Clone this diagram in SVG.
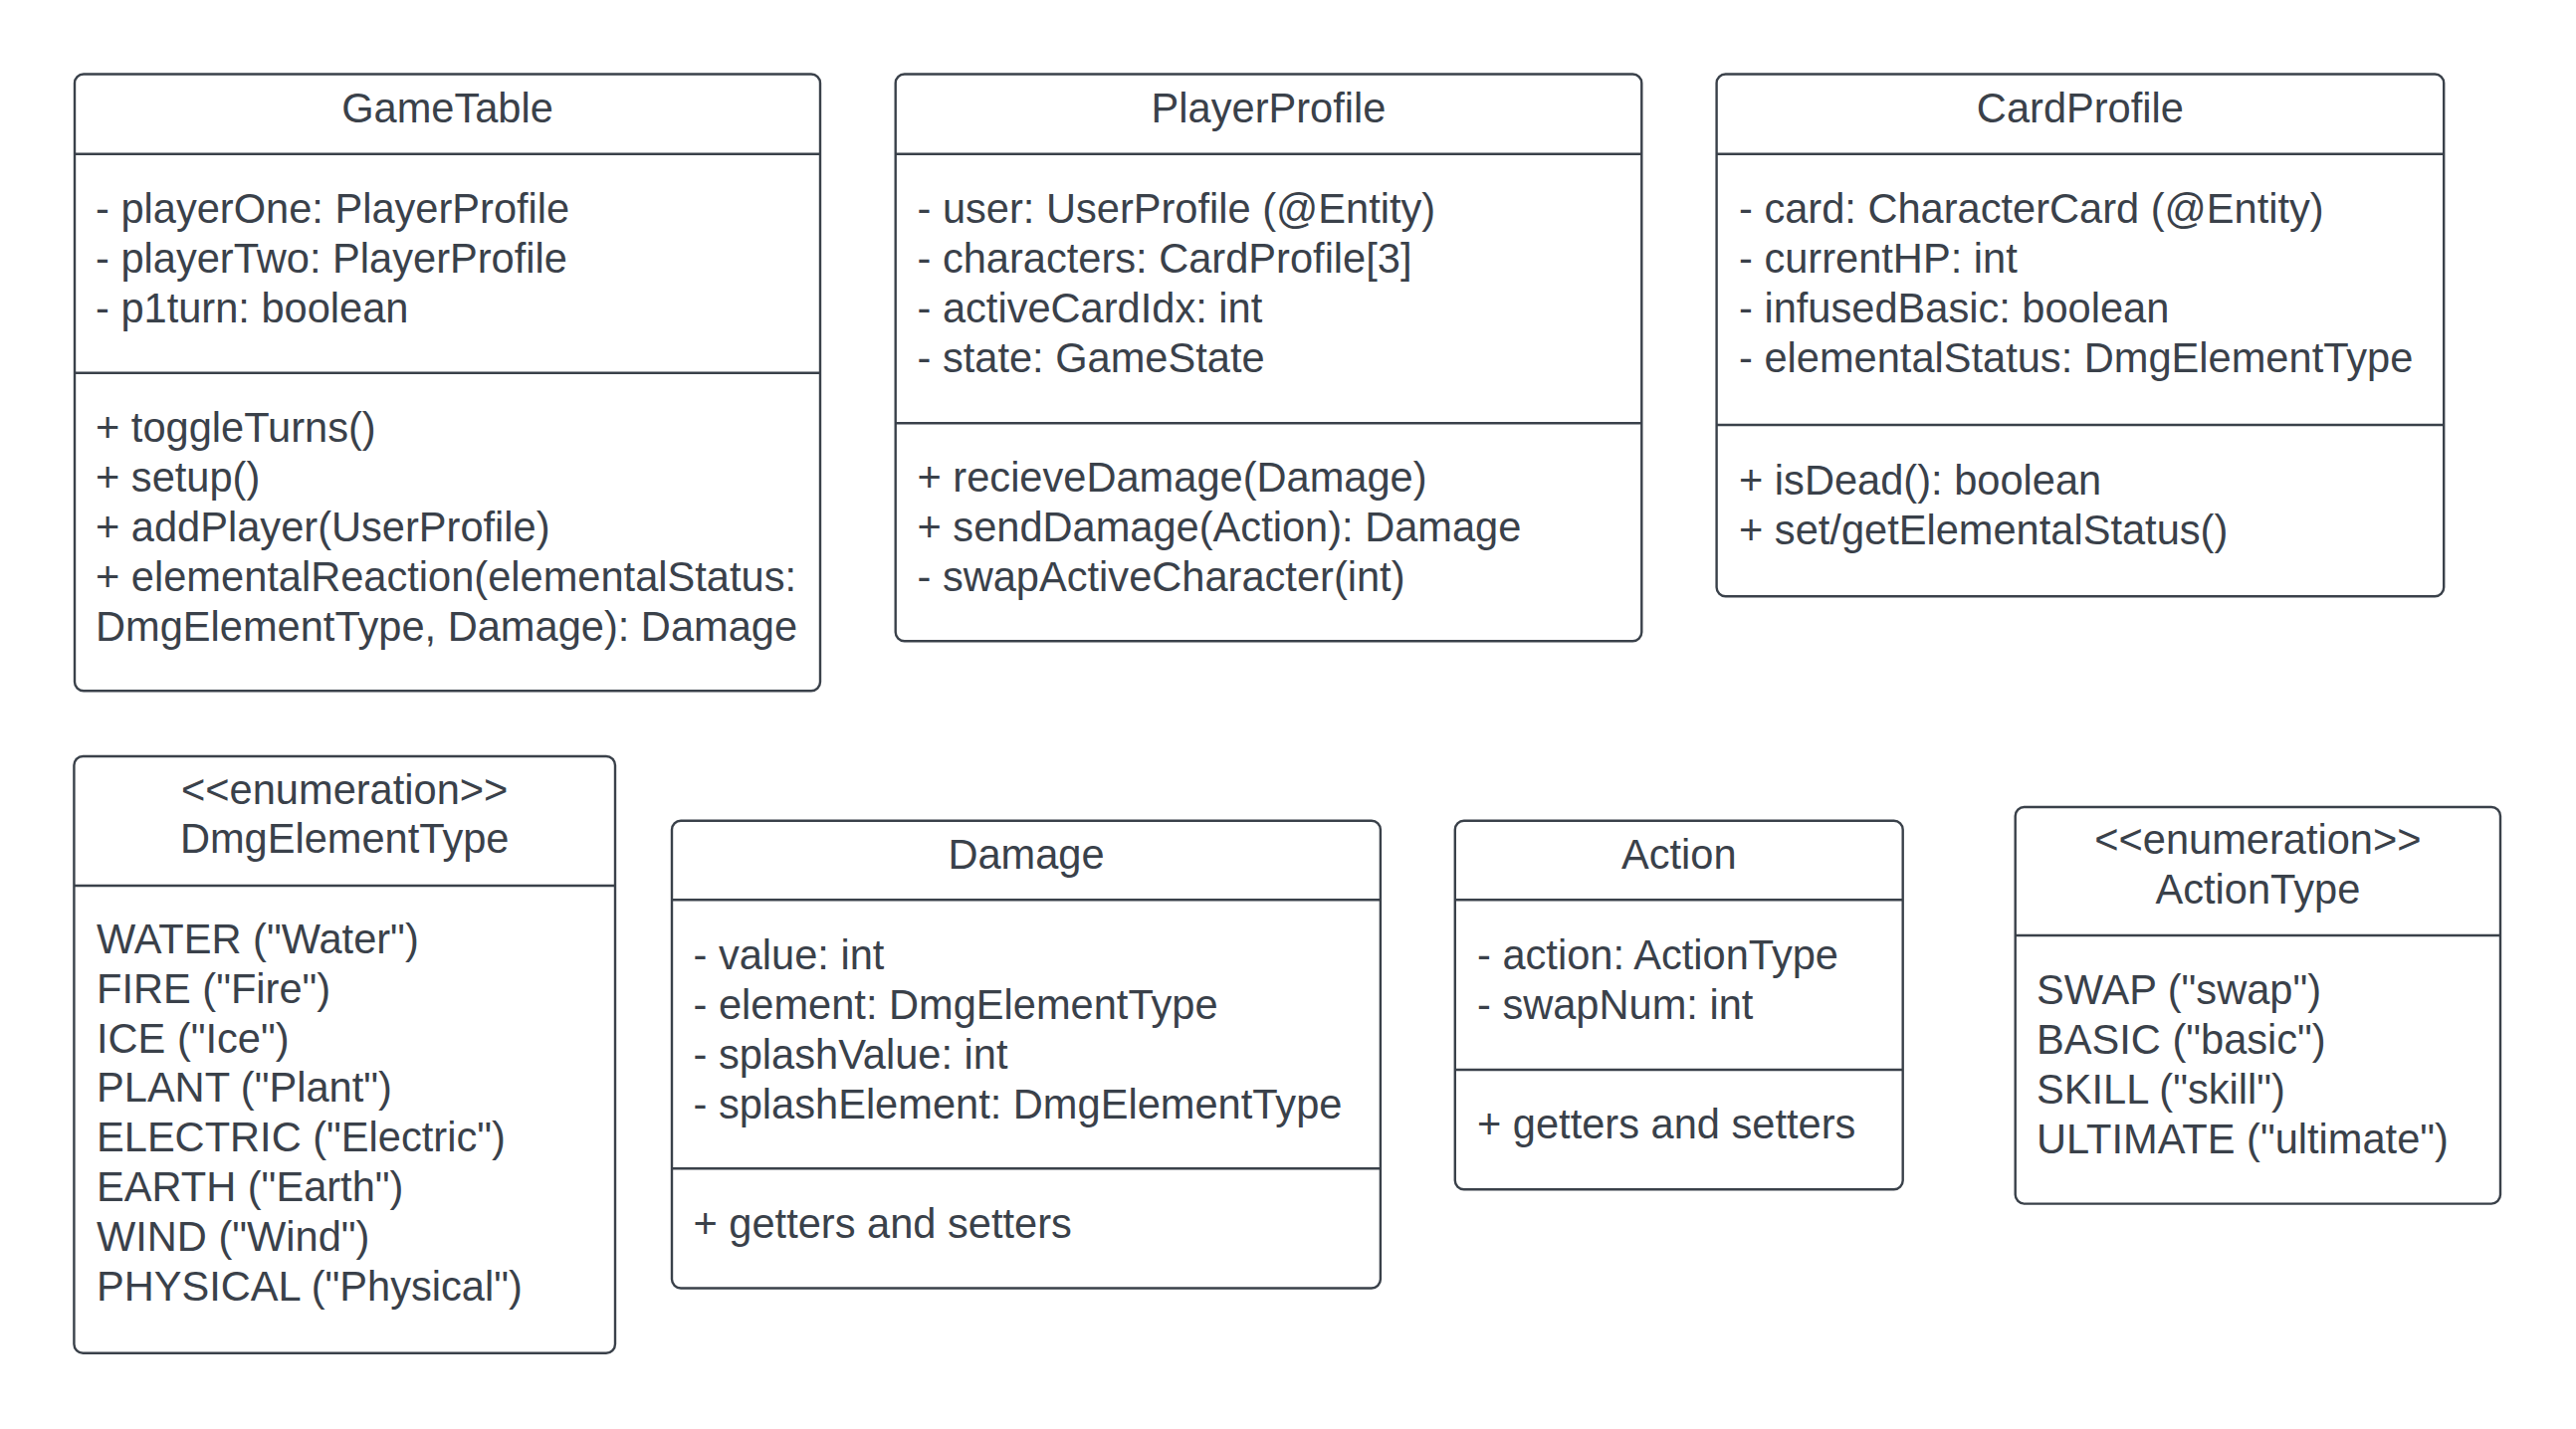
<svg xmlns="http://www.w3.org/2000/svg" width="2588" height="1436" viewBox="0 0 2588 1436">
  <style>
    .box { fill: #ffffff; stroke: #3a414a; stroke-width: 2.4; }
    .sep { stroke: #3a414a; stroke-width: 2.4; fill: none; }
    text { font-family: "Liberation Sans", Arial, sans-serif; font-size: 41.6px; fill: #3a414a; }
    .title { text-anchor: middle; }
  </style>
  <rect x="0" y="0" width="2588" height="1436" fill="#ffffff"/>

  <g id="GameTable">
    <rect class="box" x="75" y="74.5" width="749" height="619.7" rx="9"/>
    <line class="sep" x1="75" y1="154.7" x2="824" y2="154.7"/>
    <line class="sep" x1="75" y1="374.7" x2="824" y2="374.7"/>
    <text class="title" x="449.5" y="123">GameTable</text>
    <text x="96" y="224">- playerOne: PlayerProfile</text>
    <text x="96" y="274">- playerTwo: PlayerProfile</text>
    <text x="96" y="324">- p1turn: boolean</text>
    <text x="96" y="443.5">+ toggleTurns()</text>
    <text x="96" y="493.5">+ setup()</text>
    <text x="96" y="543.5">+ addPlayer(UserProfile)</text>
    <text x="96" y="593.5">+ elementalReaction(elementalStatus:</text>
    <text x="96" y="643.5">DmgElementType, Damage): Damage</text>
  </g>

  <g id="PlayerProfile">
    <rect class="box" x="899.7" y="74.5" width="749.6" height="569.7" rx="9"/>
    <line class="sep" x1="899.7" y1="154.7" x2="1649.3" y2="154.7"/>
    <line class="sep" x1="899.7" y1="425.2" x2="1649.3" y2="425.2"/>
    <text class="title" x="1274.5" y="123">PlayerProfile</text>
    <text x="921.5" y="224">- user: UserProfile (@Entity)</text>
    <text x="921.5" y="274">- characters: CardProfile[3]</text>
    <text x="921.5" y="324">- activeCardIdx: int</text>
    <text x="921.5" y="374">- state: GameState</text>
    <text x="921.5" y="494">+ recieveDamage(Damage)</text>
    <text x="921.5" y="544">+ sendDamage(Action): Damage</text>
    <text x="921.5" y="594">- swapActiveCharacter(int)</text>
  </g>

  <g id="CardProfile">
    <rect class="box" x="1724.6" y="74.5" width="730.6" height="524.7" rx="9"/>
    <line class="sep" x1="1724.6" y1="154.7" x2="2455.2" y2="154.7"/>
    <line class="sep" x1="1724.6" y1="427" x2="2455.2" y2="427"/>
    <text class="title" x="2089.9" y="123">CardProfile</text>
    <text x="1747" y="224">- card: CharacterCard (@Entity)</text>
    <text x="1747" y="274">- currentHP: int</text>
    <text x="1747" y="324">- infusedBasic: boolean</text>
    <text x="1747" y="374">- elementalStatus: DmgElementType</text>
    <text x="1747" y="496.5">+ isDead(): boolean</text>
    <text x="1747" y="546.5">+ set/getElementalStatus()</text>
  </g>

  <g id="DmgElementType">
    <rect class="box" x="74.4" y="760" width="543.6" height="599.7" rx="9"/>
    <line class="sep" x1="74.4" y1="890" x2="618" y2="890"/>
    <text class="title" x="346.2" y="807.8">&lt;&lt;enumeration&gt;&gt;</text>
    <text class="title" x="346.2" y="857.4">DmgElementType</text>
    <text x="97" y="958">WATER ("Water")</text>
    <text x="97" y="1007.8">FIRE ("Fire")</text>
    <text x="97" y="1057.6">ICE ("Ice")</text>
    <text x="97" y="1107.4">PLANT ("Plant")</text>
    <text x="97" y="1157.2">ELECTRIC ("Electric")</text>
    <text x="97" y="1207">EARTH ("Earth")</text>
    <text x="97" y="1256.8">WIND ("Wind")</text>
    <text x="97" y="1306.6">PHYSICAL ("Physical")</text>
  </g>

  <g id="Damage">
    <rect class="box" x="675" y="824.8" width="711.9" height="469.7" rx="9"/>
    <line class="sep" x1="675" y1="904.2" x2="1386.9" y2="904.2"/>
    <line class="sep" x1="675" y1="1174.2" x2="1386.9" y2="1174.2"/>
    <text class="title" x="1031" y="873">Damage</text>
    <text x="696.5" y="974">- value: int</text>
    <text x="696.5" y="1024">- element: DmgElementType</text>
    <text x="696.5" y="1074">- splashValue: int</text>
    <text x="696.5" y="1124">- splashElement: DmgElementType</text>
    <text x="696.5" y="1244">+ getters and setters</text>
  </g>

  <g id="Action">
    <rect class="box" x="1461.8" y="824.8" width="449.9" height="370.5" rx="9"/>
    <line class="sep" x1="1461.8" y1="904.2" x2="1911.7" y2="904.2"/>
    <line class="sep" x1="1461.8" y1="1075" x2="1911.7" y2="1075"/>
    <text class="title" x="1686.8" y="873">Action</text>
    <text x="1484" y="974">- action: ActionType</text>
    <text x="1484" y="1024">- swapNum: int</text>
    <text x="1484" y="1144">+ getters and setters</text>
  </g>

  <g id="ActionType">
    <rect class="box" x="2024.7" y="811" width="487.3" height="398.6" rx="9"/>
    <line class="sep" x1="2024.7" y1="940" x2="2512" y2="940"/>
    <text class="title" x="2268.4" y="858">&lt;&lt;enumeration&gt;&gt;</text>
    <text class="title" x="2268.4" y="908">ActionType</text>
    <text x="2046" y="1009">SWAP ("swap")</text>
    <text x="2046" y="1059">BASIC ("basic")</text>
    <text x="2046" y="1109">SKILL ("skill")</text>
    <text x="2046" y="1159">ULTIMATE ("ultimate")</text>
  </g>

  <g id="connectors"></g>
</svg>
